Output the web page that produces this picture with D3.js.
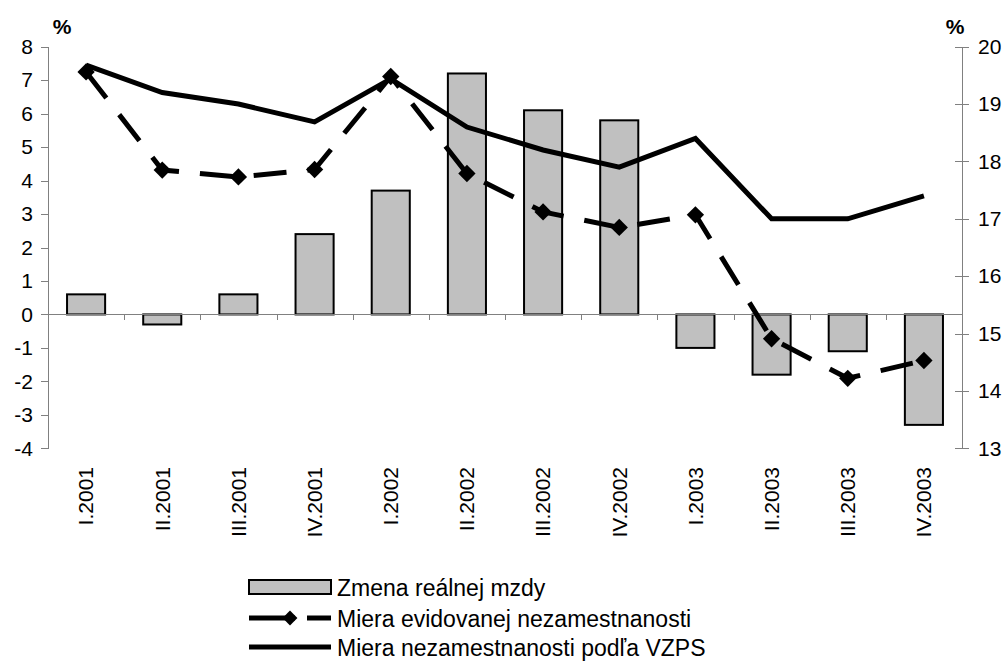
<!DOCTYPE html>
<html>
<head>
<meta charset="utf-8">
<title>Mzdy a nezamestnanost</title>
<style>
  body { margin: 0; background: #fff; }
  svg { display: block; font-family: Arial, "Liberation Sans", sans-serif; }
  .axis path, .axis line { stroke: #808080; shape-rendering: crispEdges; }
  .axis text { fill: #000; font-size: 21px; font-family: Arial, "Liberation Sans", sans-serif; }
</style>
</head>
<body>
<div id="chart"></div>
<script src="https://d3js.org/d3.v7.min.js"></script>
<script>
// quarters
var categories = ["I.2001", "II.2001", "III.2001", "IV.2001", "I.2002", "II.2002",
                  "III.2002", "IV.2002", "I.2003", "II.2003", "III.2003", "IV.2003"];
// zmena realnej mzdy (left axis, %)
var wageChange = [0.6, -0.3, 0.6, 2.4, 3.7, 7.2, 6.1, 5.8, -1.0, -1.8, -1.1, -3.3];
// miera evidovanej nezamestnanosti (right axis, %)
var registeredRate = [19.56, 17.85, 17.73, 17.86, 19.48, 17.79, 17.12, 16.85, 17.07, 14.91, 14.22, 14.53];
// miera nezamestnanosti podla VZPS (right axis, %)
var lfsRate = [19.68, 19.2, 19.0, 18.69, 19.44, 18.6, 18.2, 17.9, 18.4, 17.0, 17.0, 17.4];

var leftTicks = d3.range(-4, 9);
var rightTicks = d3.range(13, 21);
var legendLabels = ["Zmena reálnej mzdy", "Miera evidovanej nezamestnanosti", "Miera nezamestnanosti podľa VZPS"];

var width = 1005, height = 662;
var plot = {left: 48, right: 962, top: 46.7, bottom: 448.3};

// plain hyphen minus like the original, not the unicode one
var fmt = function(d) { return String(d); };

var svg = d3.select("#chart").append("svg")
    .attr("width", width)
    .attr("height", height);

svg.append("rect").attr("width", width).attr("height", height).attr("fill", "#fff");

var x = d3.scaleBand()
    .domain(categories)
    .range([plot.left, plot.right])
    .paddingInner(0.5)
    .paddingOuter(0.25);

// boundaries between quarters for the small ticks
var xEdge = d3.scaleLinear().domain([0, categories.length]).range([plot.left, plot.right]);

var yLeft = d3.scaleLinear().domain([-4, 8]).range([plot.bottom, plot.top]);
var yRight = d3.scaleLinear().domain([13, 20]).range([plot.bottom, plot.top]);

function cx(d, i) { return x(categories[i]) + x.bandwidth() / 2; }

// bars
svg.append("g").selectAll("rect")
    .data(wageChange)
    .join("rect")
    .attr("x", function(d, i) { return x(categories[i]); })
    .attr("y", function(d) { return yLeft(Math.max(0, d)); })
    .attr("width", x.bandwidth())
    .attr("height", function(d) { return Math.abs(yLeft(d) - yLeft(0)); })
    .attr("fill", "#c0c0c0")
    .attr("stroke", "#000")
    .attr("stroke-width", 2);

// category axis at zero
svg.append("g")
    .attr("class", "axis")
    .attr("transform", "translate(0," + yLeft(0) + ")")
    .call(d3.axisBottom(xEdge).tickValues(d3.range(0, categories.length + 1)).tickFormat("").tickSizeInner(6).tickSizeOuter(0));

// left axis
svg.append("g")
    .attr("class", "axis")
    .attr("transform", "translate(" + plot.left + ",0)")
    .call(d3.axisLeft(yLeft).tickValues(leftTicks).tickFormat(fmt).tickSizeInner(7).tickSizeOuter(0).tickPadding(8));

// right axis, ticks cross the line
var rAxis = svg.append("g")
    .attr("class", "axis")
    .attr("transform", "translate(" + plot.right + ",0)")
    .call(d3.axisRight(yRight).tickValues(rightTicks).tickFormat(fmt).tickSizeInner(7).tickSizeOuter(0).tickPadding(9));
rAxis.selectAll(".tick line").attr("x1", -7);

// category labels, rotated
svg.append("g").selectAll("text")
    .data(categories)
    .join("text")
    .attr("transform", function(d) { return "translate(" + (x(d) + x.bandwidth() / 2) + ",467) rotate(-90)"; })
    .attr("text-anchor", "end")
    .attr("dy", "0.35em")
    .attr("font-size", 21)
    .text(function(d) { return d; });

// % units
svg.append("text").attr("x", 62).attr("y", 34).attr("text-anchor", "middle")
    .attr("font-size", 21).attr("font-weight", "bold").text("%");
svg.append("text").attr("x", 955).attr("y", 34).attr("text-anchor", "middle")
    .attr("font-size", 21).attr("font-weight", "bold").text("%");

// lines
var line = d3.line()
    .x(function(d, i) { return cx(d, i); })
    .y(function(d) { return yRight(d); });

svg.append("path")
    .datum(lfsRate)
    .attr("d", line)
    .attr("fill", "none")
    .attr("stroke", "#000")
    .attr("stroke-width", 5)
    .attr("stroke-linejoin", "miter");

svg.append("path")
    .datum(registeredRate)
    .attr("d", line)
    .attr("fill", "none")
    .attr("stroke", "#000")
    .attr("stroke-width", 5)
    .attr("stroke-dasharray", "33,21");

var diamond = d3.symbol().type(d3.symbolSquare).size(150);
svg.append("g").selectAll("path")
    .data(registeredRate)
    .join("path")
    .attr("d", diamond)
    .attr("transform", function(d, i) { return "translate(" + cx(d, i) + "," + yRight(d) + ") rotate(45)"; })
    .attr("fill", "#000");

// legend
var lg = svg.append("g").attr("font-size", 23);
var lx0 = 249, lx1 = 331, rows = [587, 618, 647];

lg.append("rect")
    .attr("x", lx0).attr("y", rows[0] - 7)
    .attr("width", lx1 - lx0).attr("height", 14)
    .attr("fill", "#c0c0c0").attr("stroke", "#000").attr("stroke-width", 2);

lg.append("line")
    .attr("x1", lx0).attr("x2", lx1).attr("y1", rows[1]).attr("y2", rows[1])
    .attr("stroke", "#000").attr("stroke-width", 5)
    .attr("stroke-dasharray", "46,12,24");
lg.append("path")
    .attr("d", d3.symbol().type(d3.symbolSquare).size(110))
    .attr("transform", "translate(" + ((lx0 + lx1) / 2) + "," + rows[1] + ") rotate(45)")
    .attr("fill", "#000");

lg.append("line")
    .attr("x1", lx0).attr("x2", lx1).attr("y1", rows[2]).attr("y2", rows[2])
    .attr("stroke", "#000").attr("stroke-width", 5);

lg.selectAll("text")
    .data(legendLabels)
    .join("text")
    .attr("x", 337)
    .attr("y", function(d, i) { return rows[i] + 9; })
    .text(function(d) { return d; });
</script>
</body>
</html>
